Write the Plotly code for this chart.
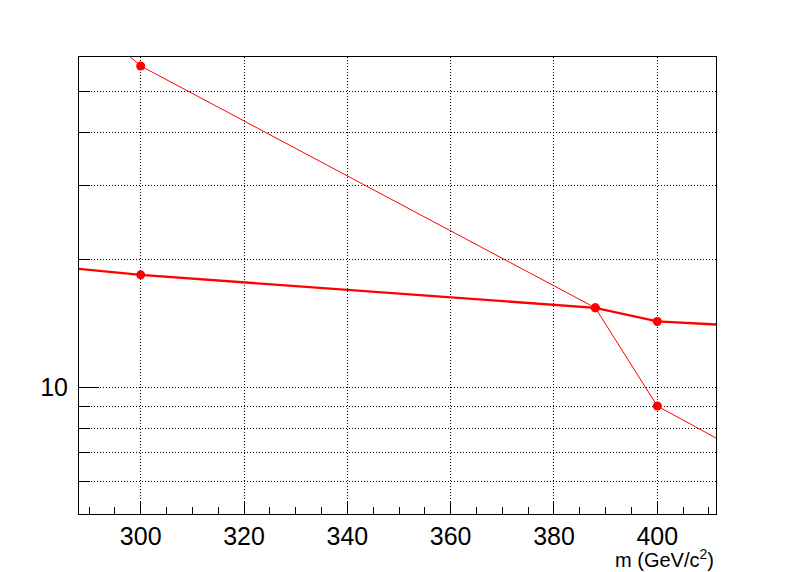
import plotly.graph_objects as go

# Data (mass in GeV/c^2)
mass = [280, 300, 388, 400, 420]
thick_vals = [19.46, 18.42, 15.40, 14.30, 13.89]
thin_vals = [93.4, 57.32, 15.40, 9.03, 6.65]

x_major = [300, 320, 340, 360, 380, 400]
x_major_text = ["300", "320", "340", "360", "380", "400"]
y_major = [10]
y_major_text = ["10"]
y_minor = [6, 7, 8, 9, 20, 30, 40, 50]

RED = "#ff0000"
FONT = "Liberation Sans, Arial, Helvetica, sans-serif"

fig = go.Figure()
fig.add_trace(go.Scatter(
    x=mass, y=thin_vals, mode="lines+markers",
    line=dict(color=RED, width=1),
    marker=dict(color=RED, size=9, symbol="circle"),
    showlegend=False,
))
fig.add_trace(go.Scatter(
    x=mass, y=thick_vals, mode="lines+markers",
    line=dict(color=RED, width=2.3),
    marker=dict(color=RED, size=9, symbol="circle"),
    showlegend=False,
))

# page body has an 8px margin: shrink figure accordingly
fig.update_layout(
    width=788, height=564,
    margin=dict(l=71, r=80, t=49, b=58),
    paper_bgcolor="white", plot_bgcolor="white",
    font=dict(family=FONT, color="black"),
    xaxis=dict(
        range=[288.06, 411.36],
        tickmode="array", tickvals=x_major, ticktext=x_major_text,
        ticks="inside", ticklen=13, tickcolor="black", tickwidth=1,
        tickfont=dict(size=25, family=FONT),
        showline=True, linecolor="black", linewidth=1, mirror=True,
        showgrid=True, gridcolor="black", gridwidth=1, griddash="1px,2px",
        zeroline=False,
        minor=dict(dtick=5, tick0=0, ticks="inside", ticklen=7,
                   tickcolor="black", showgrid=False),
    ),
    yaxis=dict(
        type="log",
        range=[0.7009, 1.7795],
        tickmode="array", tickvals=y_major, ticktext=y_major_text,
        ticks="inside", ticklen=20, tickcolor="black", tickwidth=1,
        tickfont=dict(size=25, family=FONT),
        ticklabelstandoff=5,
        showline=True, linecolor="black", linewidth=1, mirror=True,
        showgrid=True, gridcolor="black", gridwidth=1, griddash="1px,2px",
        zeroline=False,
        minor=dict(tickmode="array", tickvals=y_minor, ticks="inside", ticklen=11,
                   tickcolor="black", showgrid=True, gridcolor="black",
                   gridwidth=1, griddash="1px,2px"),
    ),
    annotations=[dict(
        text="m (GeV/c<sup>2</sup>)", xref="paper", yref="paper",
        x=1.0, y=-0.065, xanchor="right", yanchor="top", showarrow=False,
        font=dict(size=20, family=FONT, color="black"),
    )],
)

fig.write_html("out.html")
